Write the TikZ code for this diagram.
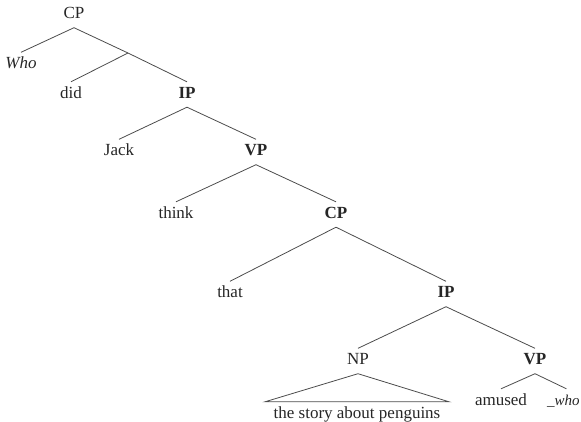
\documentclass[tikz,border=0pt]{standalone}
\usepackage{fontspec}
\setmainfont{Liberation Serif}
\begin{document}
\begin{tikzpicture}[x=1pt,y=-1pt,
    word/.style={anchor=base,inner xsep=2pt,inner ysep=5pt,text height=11pt,text depth=4pt,
                 text=black!85,font=\fontsize{17}{20}\selectfont},
    branch/.style={black!70,line width=0.8pt}]
    \useasboundingbox (0,0) rectangle (581,421);

    % matrix clause
    \node[word] (cpa) at (74,18.5) {CP};
    \node[word] (who) at (21,68.5) {\itshape Who};
    \coordinate (bar) at (128,53);
    \node[word] (did) at (71,98) {did};
    \node[word] (ipa) at (187,98) {\bfseries IP};
    \node[word] (jack) at (119,155.5) {Jack};
    \node[word] (vpa) at (256,155.5) {\bfseries VP};
    \node[word] (think) at (176,218) {think};
    \node[word] (cpb) at (336,218) {\bfseries CP};

    % embedded clause
    \node[word] (that) at (230,297.5) {that};
    \node[word] (ipb) at (446,297.5) {\bfseries IP};
    \node[word] (np) at (358,364.5) {NP};
    \node[word] (vpb) at (535,364.5) {\bfseries VP};
    \node[word,inner xsep=8.5pt] (story) at (357,418) {the story about penguins};
    \node[word] (amused) at (501,405) {amused};
    \node[word,anchor=base west,inner xsep=0pt,font=\fontsize{15}{18}\selectfont\itshape] (trace) at (547,405) {\_who};

    \draw[branch] (cpa.south) -- (who.north);
    \draw[branch] (cpa.south) -- (bar) -- (ipa.north);
    \draw[branch] (bar) -- (did.north);
    \draw[branch] (ipa.south) -- (jack.north);
    \draw[branch] (ipa.south) -- (vpa.north);
    \draw[branch] (vpa.south) -- (think.north);
    \draw[branch] (vpa.south) -- (cpb.north);
    \draw[branch] (cpb.south) -- (that.north);
    \draw[branch] (cpb.south) -- (ipb.north);
    \draw[branch] (ipb.south) -- (np.north);
    \draw[branch] (ipb.south) -- (vpb.north);

    % triangle over the subject
    \draw[branch] (np.south) -- (story.north west) -- (story.north east) -- cycle;
    \draw[branch] (vpb.south) -- (amused.north);
    \draw[branch] (vpb.south) -- ([xshift=3pt]trace.north);
\end{tikzpicture}
\end{document}
